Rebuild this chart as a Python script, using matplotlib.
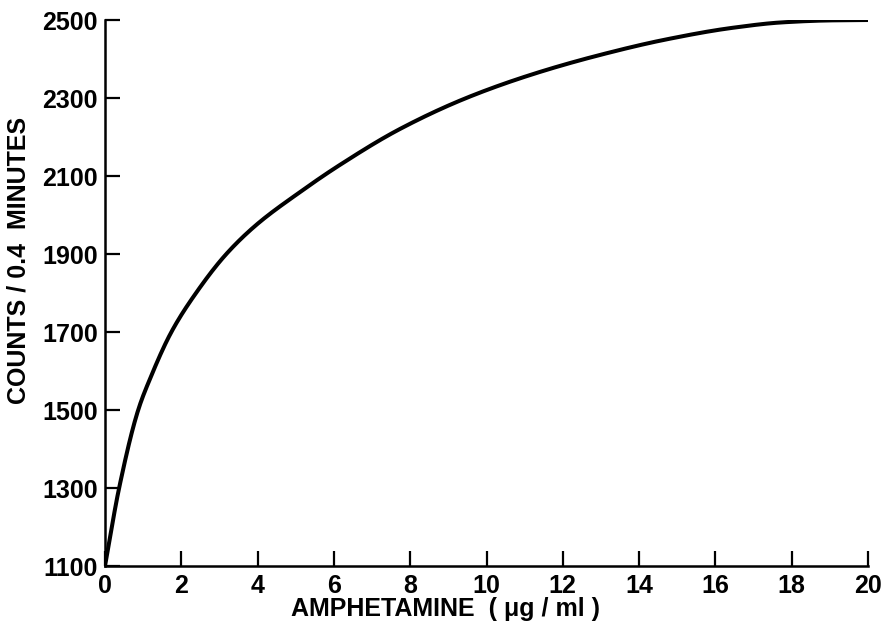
import numpy as np
import matplotlib.pyplot as plt

# values
amphetamine = [0, 0.37, 0.87, 1.18, 1.74, 2.4, 3.18, 3.97, 5.1, 6.15, 7.72,
               9.47, 11.21, 12.96, 14.7, 16.45, 17.76, 19.0, 20.0]
counts = [1100, 1300, 1500, 1580, 1700, 1802, 1900, 1975, 2058, 2128, 2220,
          2300, 2361, 2410, 2450, 2480, 2494, 2499, 2500]

xticks = [0, 2, 4, 6, 8, 10, 12, 14, 16, 18, 20]
yticks = [1100, 1300, 1500, 1700, 1900, 2100, 2300, 2500]

plt.rcParams['font.family'] = ['Liberation Sans', 'DejaVu Sans']
plt.rcParams['font.weight'] = 'bold'


def pchip(x, y, xn):
    # shape preserving cubic, so the drawn line is smooth between read points
    h = np.diff(x)
    d = np.diff(y) / h
    m = np.zeros_like(y)
    for k in range(1, len(x) - 1):
        if d[k - 1] * d[k] > 0:
            w1 = 2 * h[k] + h[k - 1]
            w2 = h[k] + 2 * h[k - 1]
            m[k] = (w1 + w2) / (w1 / d[k - 1] + w2 / d[k])
    m[0] = d[0]
    m[-1] = d[-1]
    k = np.clip(np.searchsorted(x, xn, side='right') - 1, 0, len(x) - 2)
    t = (xn - x[k]) / h[k]
    h00 = 2 * t**3 - 3 * t**2 + 1
    h10 = t**3 - 2 * t**2 + t
    h01 = -2 * t**3 + 3 * t**2
    h11 = t**3 - t**2
    return h00 * y[k] + h10 * h[k] * m[k] + h01 * y[k + 1] + h11 * h[k] * m[k + 1]


fig = plt.figure(figsize=(8.81, 6.33), dpi=100)
ax = fig.add_axes([105 / 881, 67 / 633, 763 / 881, 546 / 633])

xs = np.array(amphetamine, dtype=float)
ys = np.array(counts, dtype=float)
xn = np.linspace(0, 20, 800)
ax.plot(xn, pchip(xs, ys, xn), color='black', lw=2.9, solid_capstyle='butt')

ax.set_xlim(0, 20)
ax.set_ylim(1100, 2500)
ax.set_xticks(xticks)
ax.set_yticks(yticks)
ax.tick_params(direction='in', length=11, width=1.6, labelsize=18)
ax.tick_params(axis='x', pad=6)
ax.tick_params(axis='y', pad=5)
for s in ['top', 'right']:
    ax.spines[s].set_visible(False)
for s in ['left', 'bottom']:
    ax.spines[s].set_linewidth(1.8)

ax.set_xlabel('AMPHETAMINE  ( μg / ml )', fontsize=18, fontweight='bold', va='center')
ax.xaxis.set_label_coords(0.446, -0.079)
ax.set_ylabel('COUNTS / 0.4  MINUTES', fontsize=18, fontweight='bold', va='center', ha='center')
ax.yaxis.set_label_coords(-0.114, 0.559)

fig.savefig('out.png', dpi=100)
